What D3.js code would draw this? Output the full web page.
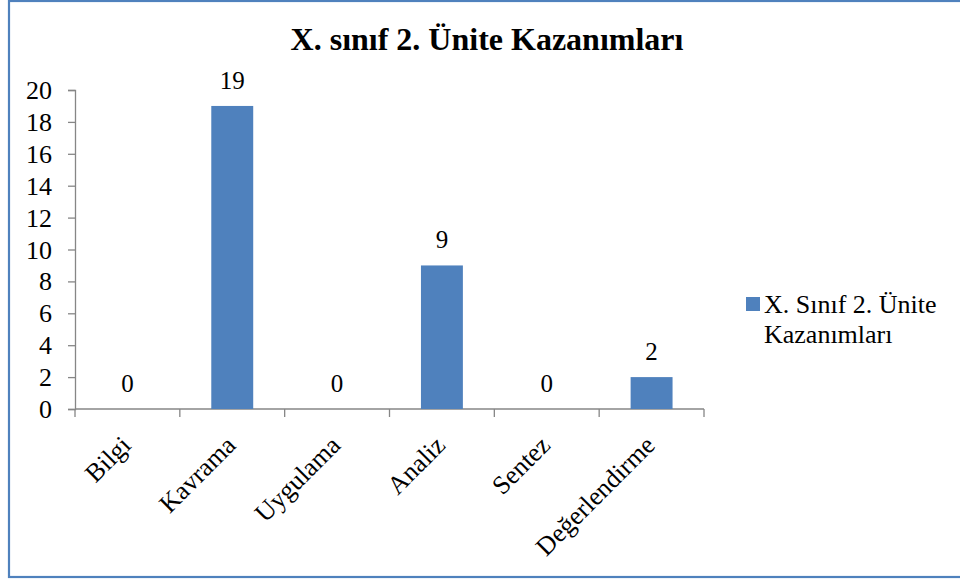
<!DOCTYPE html>
<html><head><meta charset="utf-8">
<script src="https://cdn.jsdelivr.net/npm/d3@7"></script>
<style>body{margin:0;background:#fff}svg{display:block}
svg text{font-family:"Liberation Serif","Times New Roman",serif;fill:#000}</style>
</head><body>
<svg id="c" width="960" height="581"></svg>
<script>
const categories = ["Bilgi","Kavrama","Uygulama","Analiz","Sentez","Değerlendirme"];
const values = [0,19,0,9,0,2];
const yTicks = [0,2,4,6,8,10,12,14,16,18,20];
const title = "X. sınıf 2. Ünite Kazanımları";
const seriesName = ["X. Sınıf 2. Ünite","Kazanımları"];

const svg = d3.select("#c");
svg.append("rect").attr("x",9).attr("y",1).attr("width",960).attr("height",576)
  .attr("fill","#fff").attr("stroke","#4f81bd").attr("stroke-width",2.2);

const x = d3.scaleBand().domain(categories).range([75,704]).paddingInner(0.6).paddingOuter(0.3);
const y = d3.scaleLinear().domain([0,20]).range([409,90]);

svg.append("text").attr("x",487).attr("y",50).attr("text-anchor","middle")
  .attr("font-weight","bold").attr("font-size",32).text(title);

const yAxis = svg.append("g").attr("transform","translate(75,0)")
  .call(d3.axisLeft(y).tickValues(yTicks).tickSize(7).tickPadding(16));
yAxis.attr("font-family",null);
yAxis.select(".domain").attr("stroke","#868686").attr("stroke-width",1.3);
yAxis.selectAll(".tick line").attr("stroke","#868686").attr("stroke-width",1.3);
yAxis.selectAll("text").attr("font-size",26).attr("fill","#000").attr("dy","0.33em");

// x axis
const xb = d3.scaleLinear().domain([0,categories.length]).range([75,704]);
const xg = svg.append("g");
xg.append("line").attr("x1",75).attr("x2",704).attr("y1",409).attr("y2",409)
  .attr("stroke","#868686").attr("stroke-width",1.3);
xg.selectAll("line.t").data(d3.range(categories.length+1)).enter().append("line")
  .attr("x1",d=>xb(d)).attr("x2",d=>xb(d)).attr("y1",409).attr("y2",417)
  .attr("stroke","#868686").attr("stroke-width",1.3);

svg.selectAll("rect.bar").data(values).enter().append("rect")
  .attr("x",(d,i)=>x(categories[i])).attr("width",x.bandwidth())
  .attr("y",d=>y(d)).attr("height",d=>y(0)-y(d)).attr("fill","#4f81bd");

svg.selectAll("text.val").data(values).enter().append("text")
  .attr("x",(d,i)=>x(categories[i])+x.bandwidth()/2).attr("y",d=>y(d)-17)
  .attr("text-anchor","middle").attr("font-size",25).text(d=>d);

svg.selectAll("text.cat").data(categories).enter().append("text")
  .attr("text-anchor","end").attr("font-size",26)
  .attr("transform",d=>`translate(${x(d)+x.bandwidth()/2-8},${434}) rotate(-45)`)
  .attr("dy","0.7em").text(d=>d);

// legend
svg.append("rect").attr("x",746).attr("y",297).attr("width",14).attr("height",14).attr("fill","#4f81bd");
svg.append("text").attr("font-size",26)
  .selectAll("tspan").data(seriesName).enter().append("tspan")
  .attr("x",764).attr("y",(d,i)=>313+i*30).text(d=>d);
</script>
</body></html>
